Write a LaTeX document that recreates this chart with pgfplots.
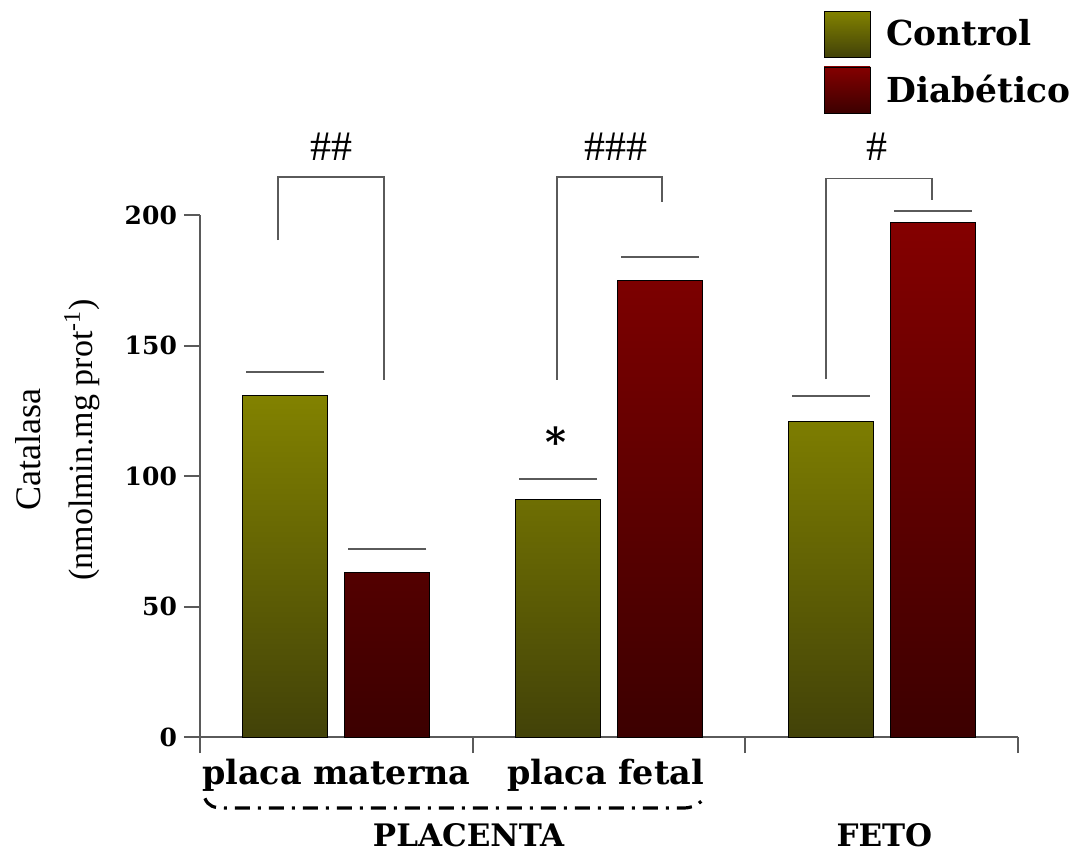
\documentclass[border=0pt]{standalone}
\usepackage{pgfplots}
\pgfplotsset{compat=1.18}
\usepackage{fontspec}
\setmainfont{Liberation Serif}
\newfontfamily\bfont{DejaVu Serif}
\definecolor{oliveTop}{RGB}{130,130,0}
\definecolor{oliveBot}{RGB}{66,66,8}
\definecolor{redTop}{RGB}{132,0,0}
\definecolor{redBot}{RGB}{60,0,0}
\definecolor{axgray}{RGB}{90,90,90}
\begin{document}
\begin{tikzpicture}
\begin{axis}[
  scale only axis, width=409pt, height=261pt,
  xmin=0, xmax=3, ymin=0, ymax=200,
  axis x line*=bottom, axis y line*=left,
  axis line style={axgray, line width=1pt, -},
  clip=false,
  ytick={0,50,100,150,200},
  xtick={0,1,2,3}, xticklabels={},
  tick align=outside,
  major tick length=8pt,
  tick style={axgray, line width=1pt},
  yticklabel style={font=\bfont\bfseries\fontsize{12.5}{14}\selectfont},
  /pgf/number format/assume math mode=true,
  legend style={at={(rel axis cs:0.762,1.392)}, anchor=north west, draw=none, fill=none,
    font=\bfont\bfseries\fontsize{17.2}{19}\selectfont, row sep=4.5pt, inner sep=0pt,
    cells={anchor=west}},
  legend image code/.code={\draw[#1,draw=black,line width=0.4pt] (0pt,-11.5pt) rectangle (23pt,11.5pt);\path (29pt,0pt);},
]
\addplot[ybar, bar width=42.5pt, bar shift=-25.5pt, draw=black, line width=0.4pt,
  top color=oliveTop, bottom color=oliveBot]
  coordinates {(0.5,131) (1.5,91) (2.5,120.8)};
\addlegendentry{Control}
\addplot[ybar, bar width=42.5pt, bar shift=25.5pt, draw=black, line width=0.4pt,
  top color=redTop, bottom color=redBot]
  coordinates {(0.5,63) (1.5,175) (2.5,197)};
\addlegendentry{Diabético}
% error caps
\addplot[forget plot, only marks, mark=-, mark size=19.5pt, mark options={axgray, line width=0.9pt}]
  coordinates {(0.313,140) (1.313,99) (2.313,130.7)};
\addplot[forget plot, only marks, mark=-, mark size=19.5pt, mark options={axgray, line width=0.9pt}]
  coordinates {(0.687,72) (1.687,184) (2.687,201.6)};
% brackets
\draw[axgray, line width=0.9pt] (axis cs:0.286,190.4) |- (axis cs:0.675,214.6) -- (axis cs:0.675,136.8);
\draw[axgray, line width=0.9pt] (axis cs:1.309,136.8) |- (axis cs:1.694,214.6) -- (axis cs:1.694,205);
\draw[axgray, line width=0.9pt] (axis cs:2.296,137) |- (axis cs:2.684,214) -- (axis cs:2.684,205.7);
\node[font=\fontsize{21}{21}\selectfont] at (axis cs:0.484,226) {\#\#};
\node[font=\fontsize{21}{21}\selectfont] at (axis cs:1.525,226) {\#\#\#};
\node[font=\fontsize{21}{21}\selectfont] at (axis cs:2.483,226) {\#};
\node[font=\bfont\bfseries\fontsize{20}{20}\selectfont] at (axis cs:1.305,113) {*};
% category labels
\node[font=\bfont\bfseries\fontsize{16.7}{18}\selectfont] at (axis cs:0.5,-14.6) {placa materna};
\node[font=\bfont\bfseries\fontsize{16.7}{18}\selectfont] at (axis cs:1.487,-14.6) {placa fetal};
\node[font=\bfont\bfseries\fontsize{15.5}{18}\selectfont] at (axis cs:0.985,-37.5) {PLACENTA};
\node[font=\bfont\bfseries\fontsize{15.5}{18}\selectfont] at (axis cs:2.51,-37.5) {FETO};
\draw[black, line width=1.6pt, dash pattern=on 7.5pt off 4pt on 1.5pt off 4pt]
  (axis cs:0.018,-23.5) .. controls (axis cs:0.03,-26.5) and (axis cs:0.05,-27.2) .. (axis cs:0.09,-27.2)
  -- (axis cs:1.77,-27.2) .. controls (axis cs:1.80,-27.2) and (axis cs:1.82,-26.5) .. (axis cs:1.84,-24.5);
% y label
\node[rotate=90, font=\fontsize{18}{18}\selectfont] at ([xshift=-86pt]rel axis cs:0,0.55) {Catalasa};
\node[rotate=90, font=\fontsize{17}{17}\selectfont] at ([xshift=-59pt]rel axis cs:0,0.569) {(nmolmin.mg prot\textsuperscript{-1})};
\coordinate (O) at (rel axis cs:0,0);
\end{axis}
\path (O) ++(-100pt,-57pt) rectangle ++(538pt,425.5pt);
\end{tikzpicture}
\end{document}
